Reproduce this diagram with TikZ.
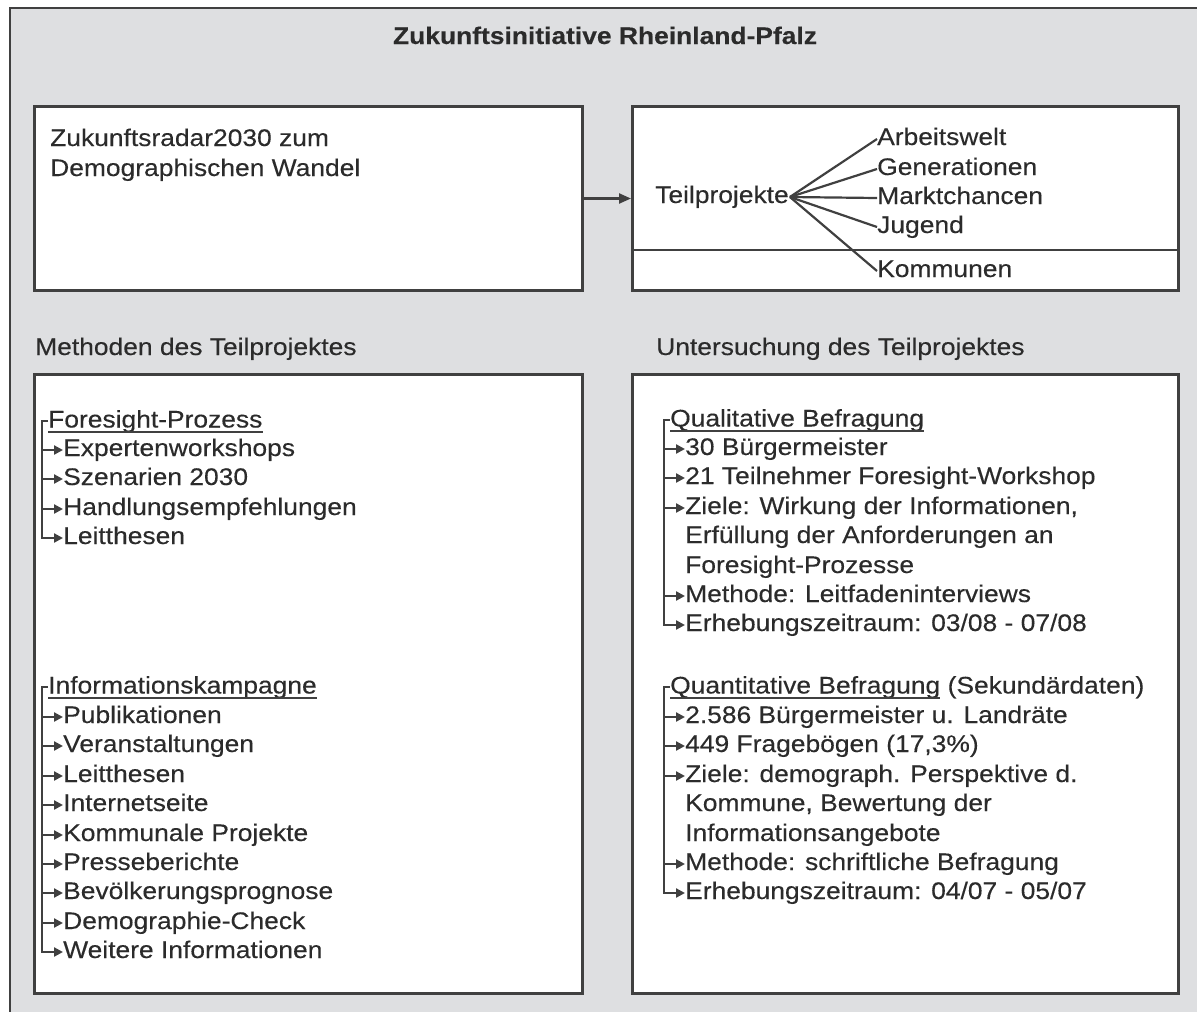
\documentclass[tikz,border=0pt]{standalone}
\usepackage{fontspec}
\setmainfont[FakeStretch=1.1, FakeBold=0.25]{Liberation Sans}
\usepackage{xcolor}
\usepackage{tikz}
\usetikzlibrary{arrows.meta, positioning}
\definecolor{framebg}{HTML}{DEDFE1}
\definecolor{ink}{HTML}{2B2B2B}
\definecolor{edge}{HTML}{404040}

\begin{document}
\begin{tikzpicture}[x=1pt, y=-1pt,
  every node/.style={font=\fontsize{24}{29.4}\selectfont, text=ink},
  panel/.style={draw=edge, line width=3pt, fill=white, anchor=north west},
  txt/.style={anchor=west, inner sep=0pt, text height=17pt, text depth=5pt},
  listhead/.style={anchor=west, inner sep=0pt, text height=17pt, text depth=4pt},
  uline/.style={draw=edge, line width=1.8pt},
  brk/.style={draw=edge, line width=2.3pt},
  arr/.style={brk, -{Triangle[length=9pt, width=9pt]}},
  spoke/.style={draw=edge, line width=2.2pt},
]
\clip (0,0) rectangle (1197,1012);
\useasboundingbox (0,0) rectangle (1197,1012);

% --- outer frame + title
\filldraw[fill=framebg, draw=edge, line width=2.6pt] (10,8) rectangle (1215,1030);
\node[font=\fontsize{24}{29}\selectfont\bfseries, anchor=base] (title) at (605,44)
  {Zukunftsinitiative Rheinland-Pfalz};

% --- row 1: radar + teilprojekte
\node[panel, minimum width=548pt, minimum height=184pt] (radar) at (33,105) {};
\node[panel, minimum width=546pt, minimum height=184pt] (teil)  at (631,105) {};
\draw[line width=2.6pt, edge] ([yshift=42pt]teil.south west) -- ([yshift=42pt]teil.south east);
\draw[arr, -{Triangle[length=12pt, width=10pt]}] (radar.east) -- (teil.west);

\node[txt] (zr1) at (50,140) {Zukunftsradar2030 zum};
\node[txt] (zr2) at (50,170) {Demographischen Wandel};

\node[txt] (tp) at (655,197) {Teilprojekte};
\coordinate (hub) at ([xshift=1pt]tp.east);
\node[txt] (aw) at (877,139) {Arbeitswelt};
\node[txt] (gn) at (877,169) {Generationen};
\node[txt] (mc) at (877,198) {Marktchancen};
\node[txt] (jg) at (877,227) {Jugend};
\node[txt] (km) at (877,271) {Kommunen};
\draw[spoke] (hub) -- (aw.west);
\draw[spoke] (hub) -- (gn.west);
\draw[spoke] (hub) -- (mc.west);
\draw[spoke] (hub) -- (jg.west);
\draw[spoke] (hub) -- (km.west);

% --- row 2: section titles
\node[txt] (meth) at (35,349)  {Methoden des Teilprojektes};
\node[txt] (unt)  at (656,349) {Untersuchung des Teilprojektes};

\node[panel, minimum width=548pt, minimum height=619pt] (methbox) at (33,373) {};
\node[panel, minimum width=546pt, minimum height=619pt] (untbox)  at (631,373) {};

% --- left: Foresight-Prozess
\node[listhead] (fp) at (48,421) {Foresight-Prozess};
\draw[uline] (fp.south west) -- (fp.south east);
\node[txt] (fp1) at (63,450) {Expertenworkshops};
\node[txt] (fp2) at (63,479) {Szenarien 2030};
\node[txt] (fp3) at (63,509) {Handlungsempfehlungen};
\node[txt] (fp4) at (63,538) {Leitthesen};
\draw[arr] (fp.west) -- ++(-6,0) coordinate (fpbar) |- (fp4.west);
\draw[arr] (fpbar |- fp1.west) -- (fp1.west);
\draw[arr] (fpbar |- fp2.west) -- (fp2.west);
\draw[arr] (fpbar |- fp3.west) -- (fp3.west);

% --- left: Informationskampagne
\node[listhead] (ik) at (48,687) {Informationskampagne};
\draw[uline] (ik.south west) -- (ik.south east);
\node[txt] (ik1) at (63,717) {Publikationen};
\node[txt] (ik2) at (63,746) {Veranstaltungen};
\node[txt] (ik3) at (63,776) {Leitthesen};
\node[txt] (ik4) at (63,805) {Internetseite};
\node[txt] (ik5) at (63,835) {Kommunale Projekte};
\node[txt] (ik6) at (63,864) {Presseberichte};
\node[txt] (ik7) at (63,893) {Bevölkerungsprognose};
\node[txt] (ik8) at (63,923) {Demographie-Check};
\node[txt] (ik9) at (63,952) {Weitere Informationen};
\draw[arr] (ik.west) -- ++(-6,0) coordinate (ikbar) |- (ik9.west);
\draw[arr] (ikbar |- ik1.west) -- (ik1.west);
\draw[arr] (ikbar |- ik2.west) -- (ik2.west);
\draw[arr] (ikbar |- ik3.west) -- (ik3.west);
\draw[arr] (ikbar |- ik4.west) -- (ik4.west);
\draw[arr] (ikbar |- ik5.west) -- (ik5.west);
\draw[arr] (ikbar |- ik6.west) -- (ik6.west);
\draw[arr] (ikbar |- ik7.west) -- (ik7.west);
\draw[arr] (ikbar |- ik8.west) -- (ik8.west);

% --- right: Qualitative Befragung
\node[listhead] (ql) at (670,420) {Qualitative Befragung};
\draw[uline] (ql.south west) -- (ql.south east);
\node[txt] (ql1) at (685,449) {30 Bürgermeister};
\node[txt] (ql2) at (685,478) {21 Teilnehmer Foresight-Workshop};
\node[txt] (ql3) at (685,508) {Ziele: Wirkung der Informationen,};
\node[txt] (ql3b) at (685,537) {Erfüllung der Anforderungen an};
\node[txt] (ql3c) at (685,567) {Foresight-Prozesse};
\node[txt] (ql4) at (685,596) {Methode: Leitfadeninterviews};
\node[txt] (ql5) at (685,625) {Erhebungszeitraum: 03/08 - 07/08};
\draw[arr] (ql.west) -- ++(-6,0) coordinate (qlbar) |- (ql5.west);
\draw[arr] (qlbar |- ql1.west) -- (ql1.west);
\draw[arr] (qlbar |- ql2.west) -- (ql2.west);
\draw[arr] (qlbar |- ql3.west) -- (ql3.west);
\draw[arr] (qlbar |- ql4.west) -- (ql4.west);

% --- right: Quantitative Befragung
\node[listhead] (qn) at (670,687) {Quantitative Befragung};
\draw[uline] (qn.south west) -- (qn.south east);
\node[listhead, right=7pt of qn] (qnx) {(Sekundärdaten)};
\node[txt] (qn1) at (685,717) {2.586 Bürgermeister u. Landräte};
\node[txt] (qn2) at (685,746) {449 Fragebögen (17,3\%)};
\node[txt] (qn3) at (685,776) {Ziele: demograph. Perspektive d.};
\node[txt] (qn3b) at (685,805) {Kommune, Bewertung der};
\node[txt] (qn3c) at (685,835) {Informationsangebote};
\node[txt] (qn4) at (685,864) {Methode: schriftliche Befragung};
\node[txt] (qn5) at (685,893) {Erhebungszeitraum: 04/07 - 05/07};
\draw[arr] (qn.west) -- ++(-6,0) coordinate (qnbar) |- (qn5.west);
\draw[arr] (qnbar |- qn1.west) -- (qn1.west);
\draw[arr] (qnbar |- qn2.west) -- (qn2.west);
\draw[arr] (qnbar |- qn3.west) -- (qn3.west);
\draw[arr] (qnbar |- qn4.west) -- (qn4.west);
\end{tikzpicture}
\end{document}
